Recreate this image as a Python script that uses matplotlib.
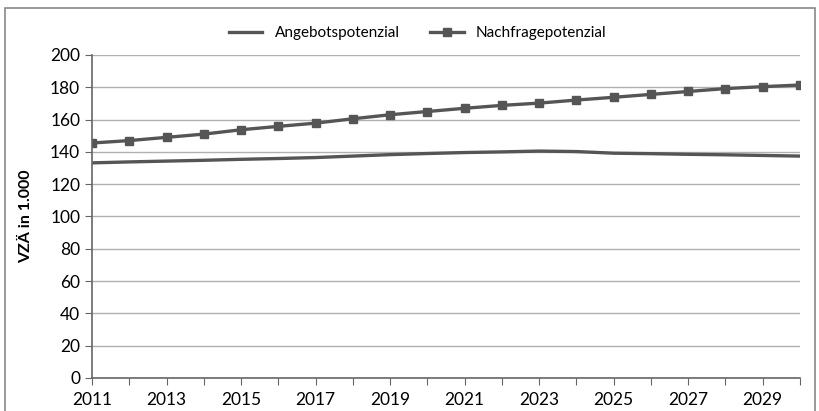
import numpy as np
import matplotlib.pyplot as plt
from matplotlib.patches import Rectangle

plt.rcParams['font.family'] = ['Lato', 'DejaVu Sans']

years = list(range(2011, 2031))
angebot = [133.2, 133.8, 134.3, 134.8, 135.4, 135.9, 136.5, 137.4, 138.3, 139.0,
           139.6, 140.0, 140.5, 140.2, 139.2, 138.9, 138.5, 138.2, 137.8, 137.4]
nachfrage = [145.5, 147.0, 149.0, 151.0, 153.7, 155.8, 157.8, 160.5, 163.0, 165.0,
             167.0, 168.8, 170.2, 172.1, 173.8, 175.6, 177.4, 179.2, 180.4, 181.4]
yticks = list(range(0, 201, 20))

fig = plt.figure(figsize=(8.19, 4.11), dpi=100)
ax = fig.add_axes([0.1123, 0.0803, 0.8645, 0.7859])

col = '#555555'
ax.plot(years, angebot, color=col, lw=2.4, label='Angebotspotenzial')
ax.plot(years, nachfrage, color=col, lw=2.4, marker='s', ms=6,
        label='Nachfragepotenzial')

ax.set_xlim(2011, 2030)
ax.set_ylim(0, 200)
ax.set_yticks(yticks)
ax.set_xticks(years)
ax.set_xticklabels([str(y) if (y - 2011) % 2 == 0 else '' for y in years])
ax.grid(axis='y', color='#b0b0b0', lw=1)
ax.set_axisbelow(True)
for s in ['top', 'right']:
    ax.spines[s].set_visible(False)
for s in ['left', 'bottom']:
    ax.spines[s].set_color('#666666')
    ax.spines[s].set_linewidth(1.2)
ax.tick_params(axis='both', colors='#666666', labelcolor='black',
               labelsize=12.5, length=5, direction='out')
ax.tick_params(axis='x', pad=5)
ax.set_ylabel('VZÄ in 1.000', fontsize=11.5, fontweight='bold', labelpad=12)

ax.legend(loc='center', bbox_to_anchor=(0.46, 1.068), ncol=2, frameon=False,
          fontsize=11, handlelength=2.2, columnspacing=2.0)

fig.patches.append(Rectangle((5 / 819, -0.1), 810 / 819, 1.1 - 8 / 411,
                             transform=fig.transFigure, fill=False,
                             edgecolor='#888888', lw=1.2, clip_on=False))

fig.savefig('out.png', dpi=100)
